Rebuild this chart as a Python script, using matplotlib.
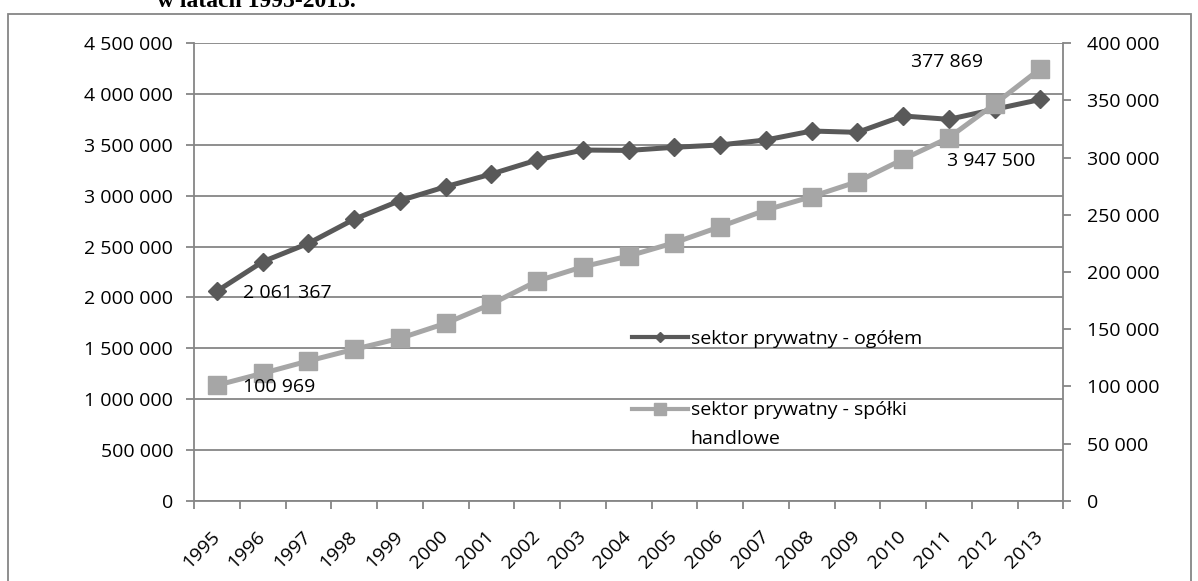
import matplotlib
matplotlib.use("Agg")
import matplotlib.pyplot as plt
import numpy as np
from matplotlib.lines import Line2D
from matplotlib.legend_handler import HandlerLine2D
from matplotlib.patches import Rectangle

# Data
years = [str(y) for y in range(1995, 2014)]
ogolem = [2061367, 2351000, 2532000, 2769000, 2952000, 3089000, 3214000,
          3352000, 3450000, 3446000, 3477000, 3500000, 3549000, 3637000,
          3624000, 3785000, 3752000, 3851000, 3947500]
spolki = [100969, 111400, 122200, 132400, 142000, 155100, 172000, 192100,
          204600, 214000, 225600, 239600, 254200, 265900, 279000, 298600,
          317500, 346900, 377869]
left_ticks = list(range(0, 4500001, 500000))
right_ticks = list(range(0, 400001, 50000))
label_ogolem = "sektor prywatny - ogółem"
label_spolki = "sektor prywatny - spółki\nhandlowe"
title_text = "w latach 1995-2013."


def fmt(v):
    return f"{v:,}".replace(",", " ")


plt.rcParams['font.family'] = ['Open Sans', 'DejaVu Sans']

DARK = "#595959"
LIGHT = "#A6A6A6"
GRID = "#868686"
FS = 14

W, H = 1198, 581
fig = plt.figure(figsize=(W / 100, H / 100), dpi=100)

# outer chart frame
fig.patches.append(Rectangle((7.5 / W, -0.05), (1191 - 7.5) / W, 1 - 14 / H + 0.05,
                             transform=fig.transFigure, fill=False,
                             edgecolor=GRID, linewidth=1.3, clip_on=False))

fig.text(157 / W, 1 - 7 / H, title_text, fontfamily='Liberation Serif',
         fontweight='bold', fontsize=17, va='baseline', ha='left')

ax = fig.add_axes([194 / W, 1 - 500.7 / H, (1063.3 - 194) / W, (500.7 - 43.3) / H])
ax2 = ax.twinx()

x = np.arange(len(years))
ax.set_xlim(-0.5, len(years) - 0.5)
ax.set_ylim(0, 4500000)
ax2.set_ylim(0, 400000)

# axes styling
for s in ['top', 'right']:
    ax.spines[s].set_visible(False)
for s in ['left', 'bottom']:
    ax.spines[s].set_color(GRID)
    ax.spines[s].set_linewidth(1.3)
for s in ['top', 'left', 'bottom']:
    ax2.spines[s].set_visible(False)
ax2.spines['right'].set_color(GRID)
ax2.spines['right'].set_linewidth(1.3)

ax.set_yticks(left_ticks)
ax.set_yticklabels([fmt(v) for v in left_ticks])
ax2.set_yticks(right_ticks)
ax2.set_yticklabels([fmt(v) for v in right_ticks])
ax.yaxis.grid(True, color=GRID, linewidth=1.3)
ax.set_axisbelow(True)
ax.tick_params(axis='y', direction='out', length=6, width=1.3, color=GRID,
               labelsize=FS, pad=9)
ax2.tick_params(axis='y', direction='out', length=6, width=1.3, color=GRID,
                labelsize=FS, pad=11)

ax.set_xticks(x)
ax.set_xticklabels(years)
ax.set_xticks(np.arange(-0.5, len(years)), minor=True)
ax.tick_params(axis='x', which='major', length=0, labelsize=FS, pad=24)
ax.tick_params(axis='x', which='minor', direction='out', length=5.5, width=1.3,
               color=GRID)
for t in ax.get_xticklabels():
    t.set_rotation(45)
    t.set_ha('right')
    t.set_va('center')
    t.set_rotation_mode('anchor')

# series
ax.plot(x, ogolem, color=DARK, linewidth=3.6, marker='D', markersize=9.5,
        markerfacecolor=DARK, markeredgecolor=DARK, zorder=3, clip_on=False)
ax2.plot(x, spolki, color=LIGHT, linewidth=3.6, marker='s', markersize=13.5,
         markerfacecolor=LIGHT, markeredgecolor=LIGHT, zorder=3, clip_on=False)

# data labels
ax.annotate(fmt(ogolem[0]), (x[0], ogolem[0]), xytext=(19, -1.5),
            textcoords='offset points', ha='left', va='center', fontsize=FS)
ax2.annotate(fmt(spolki[0]), (x[0], spolki[0]), xytext=(19, -1.5),
             textcoords='offset points', ha='left', va='center', fontsize=FS)
ax2.annotate(fmt(spolki[-1]), (x[-1], spolki[-1]), xytext=(-41, 5),
             textcoords='offset points', ha='right', va='center', fontsize=FS)
ax.annotate(fmt(ogolem[-1]), (x[-1], ogolem[-1]), xytext=(-3.6, -44.6),
            textcoords='offset points', ha='right', va='center', fontsize=FS)


class FirstLineHandler(HandlerLine2D):
    """Puts the legend key level with the first line of a multi-line label."""

    def __init__(self, shift=0.0, **kw):
        super().__init__(**kw)
        self.shift = shift

    def create_artists(self, legend, orig_handle, xdescent, ydescent, width,
                       height, fontsize, trans):
        artists = super().create_artists(legend, orig_handle, xdescent,
                                         ydescent, width, height, fontsize, trans)
        for a in artists:
            a.set_ydata(np.asarray(a.get_ydata(), dtype=float) + self.shift)
        return artists


h1 = Line2D([], [], color=DARK, linewidth=3, marker='D', markersize=5.5,
            markerfacecolor=DARK, markeredgecolor=DARK)
h2 = Line2D([], [], color=LIGHT, linewidth=3, marker='s', markersize=9,
            markerfacecolor=LIGHT, markeredgecolor=LIGHT)
leg = ax2.legend([h1, h2], [label_ogolem, label_spolki], loc='upper left',
                 bbox_to_anchor=(632 / W, 1 - 330 / H),
                 bbox_transform=fig.transFigure, frameon=False, borderpad=0,
                 borderaxespad=0, handlelength=2.9, handletextpad=0.12,
                 labelspacing=2.75, fontsize=FS,
                 handler_map={h2: FirstLineHandler(shift=11)})
for t in leg.get_texts():
    t.set_linespacing(1.72)

fig.savefig("out.png", dpi=100)
